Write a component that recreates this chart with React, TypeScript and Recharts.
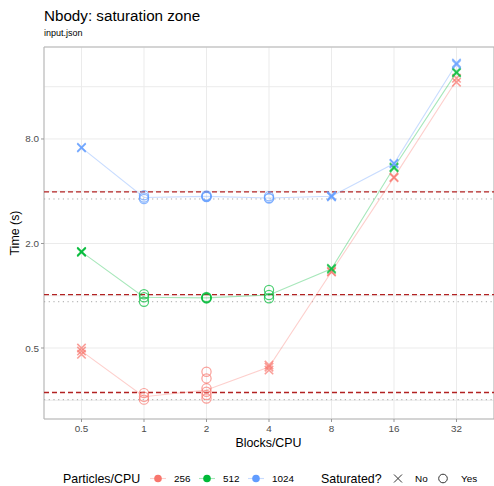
import React from "react";
import {
  ComposedChart,
  Line,
  Scatter,
  XAxis,
  YAxis,
  CartesianGrid,
  ReferenceLine,
  ReferenceArea,
} from "recharts";

// Blocks/CPU categories and particle groups
const blocks = [0.5, 1, 2, 4, 8, 16, 32];
const particles = [256, 512, 1024];
const colors = ["#F8766D", "#00BA38", "#619CFF"];

// run times (s) per block count, several runs each
const times256 = [
  [0.5, 0.48, 0.46],
  [0.275, 0.262, 0.252],
  [0.365, 0.334, 0.293, 0.28, 0.268, 0.256],
  [0.399, 0.388, 0.373],
  [1.38, 1.37],
  [4.83, 4.78],
  [17.9, 17.0],
];
const times512 = [
  [1.8, 1.79, 1.78],
  [1.02, 0.98, 0.924],
  [0.985, 0.975, 0.97, 0.965],
  [1.08, 1.01, 0.967],
  [1.44, 1.42],
  [5.52, 5.45],
  [19.5, 19.2],
];
const times1024 = [
  [7.16, 7.1],
  [3.79, 3.68, 3.61],
  [3.78, 3.75, 3.72, 3.7],
  [3.74, 3.66, 3.63],
  [3.78, 3.74, 3.71],
  [5.8, 5.75],
  [21.9, 21.5],
];

// saturated? per block count
const sat256 = [false, true, true, false, false, false, false];
const sat512 = [false, true, true, true, false, false, false];
const sat1024 = [false, true, true, true, false, false, false];

const yTicks = [0.25, 0.5, 1, 2, 4, 8, 16];
const yLabelled = [0.5, 2, 8];

const FONT = '"Liberation Sans", Arial, Helvetica, sans-serif';
const GRID = "#EBEBEB";
const BORDER = "#B3B3B3";
const TICK_TEXT = "#4D4D4D";

const X_DOMAIN = [0.5 / Math.pow(2, 0.6), 32 * Math.pow(2, 0.6)];
const Y_DOMAIN = [0.195, 27.1];

const median = (a: number[]) => {
  const s = [...a].sort((p, q) => p - q);
  const m = Math.floor(s.length / 2);
  return s.length % 2 ? s[m] : (s[m - 1] + s[m]) / 2;
};

const allTimes = [times256, times512, times1024];
const allSat = [sat256, sat512, sat1024];

const series = particles.map((p, i) => {
  const times = allTimes[i];
  const sat = allSat[i];
  const points = blocks.flatMap((b, j) => times[j].map((t) => ({ b, t, sat: sat[j] })));
  const line = blocks.map((b, j) => ({ b, t: median(times[j]) }));
  const best = Math.min(...times.flat());
  return { p, color: colors[i], points, line, best };
});

function Marker(props: any) {
  const { cx, cy, payload, color } = props;
  if (cx == null || cy == null) return null;
  if (payload.sat) {
    return (
      <circle cx={cx} cy={cy} r={4.6} fill="none" stroke={color} strokeWidth={1.2} strokeOpacity={0.7} />
    );
  }
  const s = 4.2;
  return (
    <path
      d={`M${cx - s},${cy - s}L${cx + s},${cy + s}M${cx - s},${cy + s}L${cx + s},${cy - s}`}
      stroke={color}
      strokeWidth={1.6}
      strokeOpacity={0.7}
      fill="none"
    />
  );
}

function YTick(props: any) {
  const { x, y, payload } = props;
  if (!yLabelled.includes(payload.value)) return null;
  return (
    <g>
      <line x1={x + 2} x2={x + 5} y1={y} y2={y} stroke="#999" />
      <text x={x} y={y} dy="0.355em" textAnchor="end" fontSize={9.9} fill={TICK_TEXT} fontFamily={FONT}>
        {payload.value.toFixed(1)}
      </text>
    </g>
  );
}

function Legend() {
  const y = 478.5;
  return (
    <g fontFamily={FONT}>
      <text x={63} y={483} fontSize={12.4} fill="#000">Particles/CPU</text>
      {particles.map((p, i) => {
        const cx = 158 + i * 49;
        return (
          <g key={p}>
            <line x1={cx - 8} x2={cx + 8} y1={y} y2={y} stroke={colors[i]} strokeOpacity={0.35} strokeWidth={1.1} />
            <circle cx={cx} cy={y} r={3.8} fill={colors[i]} />
            <text x={cx + 16} y={482} fontSize={9.9} fill="#000">{p}</text>
          </g>
        );
      })}
      <text x={321} y={483} fontSize={12.4} fill="#000">Saturated?</text>
      <path d={`M394,${y - 4}L402,${y + 4}M394,${y + 4}L402,${y - 4}`} stroke="#333" strokeWidth={1} />
      <text x={415} y={482} fontSize={9.9} fill="#000">No</text>
      <circle cx={443} cy={y} r={4.3} fill="none" stroke="#333" strokeWidth={1} />
      <text x={461} y={482} fontSize={9.9} fill="#000">Yes</text>
    </g>
  );
}

export default function App() {
  return (
    <div style={{ position: "absolute", left: 0, top: 0, width: 494, height: 486, background: "#fff" }}>
      <ComposedChart width={494} height={486} margin={{ top: 47, right: 0, bottom: 0, left: 0 }}>
        <CartesianGrid stroke={GRID} strokeWidth={1} />
        <XAxis
          dataKey="b"
          type="number"
          scale="log"
          domain={X_DOMAIN}
          ticks={blocks}
          interval={0}
          allowDataOverflow
          height={67}
          axisLine={false}
          tickSize={3}
          tickMargin={3}
          tickLine={{ stroke: "#999" }}
          tick={{ fontSize: 9.9, fill: TICK_TEXT, fontFamily: FONT }}
          tickFormatter={(v: number) => String(v)}
        />
        <YAxis
          dataKey="t"
          type="number"
          scale="log"
          domain={Y_DOMAIN}
          ticks={yTicks}
          interval={0}
          allowDataOverflow
          width={44}
          axisLine={false}
          tickLine={false}
          tickSize={3}
          tickMargin={2}
          tick={<YTick />}
        />
        {series.map((s) => (
          <ReferenceLine key={`min-${s.p}`} y={s.best} stroke="#A8A8A8" strokeDasharray="1.2 3.5" strokeWidth={1} />
        ))}
        {series.map((s) => (
          <ReferenceLine key={`sat-${s.p}`} y={s.best * 1.1} stroke="#B22222" strokeDasharray="5 3" strokeWidth={1.3} />
        ))}
        {series.map((s) => (
          <Line
            key={`line-${s.p}`}
            data={s.line}
            dataKey="t"
            stroke={s.color}
            strokeOpacity={0.35}
            strokeWidth={1.1}
            dot={false}
            activeDot={false}
            isAnimationActive={false}
          />
        ))}
        {series.map((s) => (
          <Scatter
            key={`pts-${s.p}`}
            data={s.points}
            dataKey="t"
            isAnimationActive={false}
            shape={(pr: any) => <Marker {...pr} color={s.color} />}
          />
        ))}
        <ReferenceArea
          x1={X_DOMAIN[0]}
          x2={X_DOMAIN[1]}
          y1={Y_DOMAIN[0]}
          y2={Y_DOMAIN[1]}
          fill="none"
          stroke={BORDER}
          strokeWidth={1}
          ifOverflow="visible"
        />
      </ComposedChart>
      <svg width={494} height={486} style={{ position: "absolute", left: 0, top: 0, pointerEvents: "none" }}>
        <text x={44} y={20.5} fontSize={15.2} fill="#000" fontFamily={FONT}>Nbody: saturation zone</text>
        <text x={44} y={35.5} fontSize={9} fill="#000" fontFamily={FONT}>input.json</text>
        <text
          x={15}
          y={233}
          fontSize={12.4}
          fill="#000"
          fontFamily={FONT}
          textAnchor="middle"
          dominantBaseline="central"
          transform="rotate(-90 15 233)"
        >
          Time (s)
        </text>
        <text x={268.5} y={447} fontSize={12.4} fill="#000" fontFamily={FONT} textAnchor="middle">Blocks/CPU</text>
        <Legend />
      </svg>
    </div>
  );
}
